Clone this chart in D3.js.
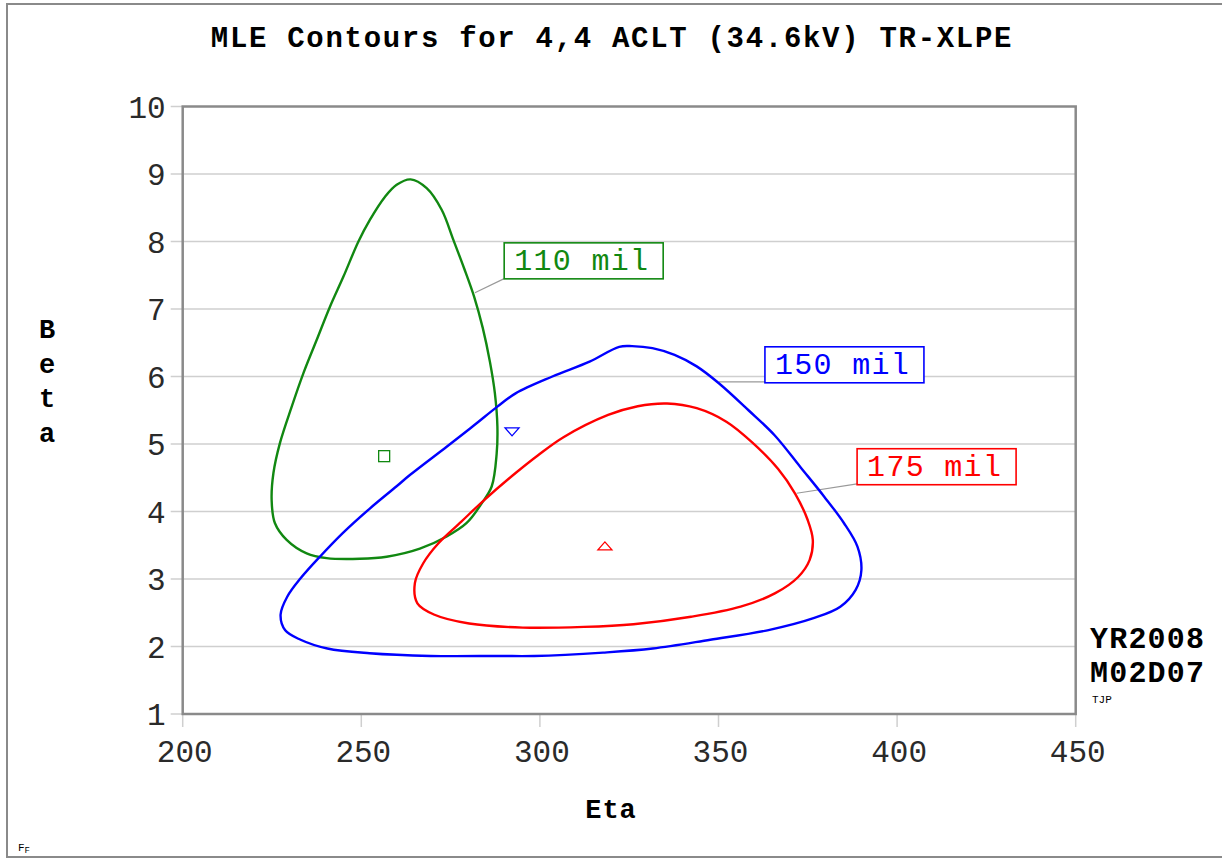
<!DOCTYPE html>
<html>
<head>
<meta charset="utf-8">
<script src="https://cdn.jsdelivr.net/npm/d3@7"></script>
<style>
  body { margin: 0; background: #fff; }
  svg { display: block; }
  text { font-family: "Liberation Mono", "DejaVu Sans Mono", monospace; }
</style>
</head>
<body>
<div id="chart"></div>
<script>
// Axis ticks
const etaTicks = [200, 250, 300, 350, 400, 450];
const betaTicks = [1, 2, 3, 4, 5, 6, 7, 8, 9, 10];
const betaGrid = [2, 3, 4, 5, 6, 7, 8, 9];

// Contour for 110 mil cable, [eta, beta]
const contour110 = [
    [263.8, 8.92], [268.3, 8.79], [272.5, 8.47], [275.8, 8.02], [278.8, 7.60],
    [281.6, 7.18], [284.0, 6.72], [286.0, 6.22], [287.4, 5.75], [288.1, 5.26],
    [287.9, 4.86], [286.5, 4.37], [283.7, 4.12], [279.5, 3.83], [273.9, 3.63],
    [266.4, 3.45], [257.1, 3.33], [249.6, 3.30], [240.3, 3.31], [234.7, 3.38],
    [229.1, 3.58], [225.8, 3.83], [224.9, 4.17], [225.4, 4.57], [227.2, 5.01],
    [230.5, 5.55], [233.8, 6.05], [237.5, 6.54], [241.2, 7.03], [245.0, 7.48],
    [249.2, 8.00], [252.4, 8.32], [256.6, 8.66], [259.9, 8.84]
];

// Contour for 150 mil cable
const contour150 = [
    [325.8, 6.45], [331.5, 6.42], [337.7, 6.32], [343.9, 6.15], [350.1, 5.90],
    [358.4, 5.50], [365.7, 5.13], [372.9, 4.66], [379.6, 4.22], [385.1, 3.83],
    [388.9, 3.48], [390.0, 3.13], [388.4, 2.84], [384.1, 2.59], [376.6, 2.42],
    [363.7, 2.24], [347.7, 2.10], [331.6, 1.97], [317.7, 1.91], [298.4, 1.86],
    [288.7, 1.86], [269.4, 1.86], [252.3, 1.90], [240.5, 1.97], [233.0, 2.10],
    [228.7, 2.24], [227.4, 2.47], [229.3, 2.74], [233.0, 3.01], [238.4, 3.33],
    [244.8, 3.68], [252.3, 4.04], [259.8, 4.37], [263.6, 4.54],
    [273.9, 4.96], [281.4, 5.27], [288.0, 5.55], [293.2, 5.75], [303.5, 6.00],
    [313.9, 6.22], [322.2, 6.44]
];

// Contour for 175 mil cable
const contour175 = [
    [335.6, 5.60], [343.9, 5.53], [352.2, 5.33], [359.5, 5.02], [366.7, 4.63],
    [371.4, 4.27], [375.0, 3.87], [376.4, 3.58], [375.5, 3.28], [372.3, 3.03],
    [365.9, 2.79], [356.2, 2.59], [342.3, 2.44], [326.2, 2.33], [312.3, 2.29],
    [295.2, 2.28], [280.2, 2.34], [270.5, 2.47], [265.7, 2.64], [265.0, 2.94],
    [267.3, 3.23], [271.6, 3.53], [278.0, 3.85], [284.4, 4.17], [293.2, 4.57],
    [299.4, 4.83], [306.6, 5.10], [319.1, 5.43], [327.4, 5.56]
];

// Point estimates [eta, beta]
const mle110 = [256.4, 4.82];
const mle150 = [292.2, 5.18];
const mle175 = [318.2, 3.49];

const seriesNames = ["110 mil", "150 mil", "175 mil"];
const seriesColors = ["#118811", "#0000ff", "#ff0000"];

// Label boxes: top-left corner and leader end, in data units
const labelBoxes = [
    { box: [290.0, 7.98], leaderFrom: [290.0, 7.45], leaderTo: [281.8, 7.24] },
    { box: [363.0, 6.44], leaderFrom: [363.0, 5.92], leaderTo: [350.1, 5.92] },
    { box: [388.8, 4.93], leaderFrom: [388.8, 4.41], leaderTo: [371.9, 4.27] }
];

// Dimensions of the page and the plot area.
let width = 1222,
    height = 858,
    margin = { top: 106.5, right: 146.3, bottom: 144, left: 182.7 },
    plotWidth = width - margin.left - margin.right,
    plotHeight = height - margin.top - margin.bottom;

let x = d3.scaleLinear().domain([200, 450]).range([0, plotWidth]);
let y = d3.scaleLinear().domain([1, 10]).range([plotHeight, 0]);

let svg = d3.select("#chart").append("svg")
    .attr("width", width)
    .attr("height", height);

// Outer frame
svg.append("rect")
    .attr("x", 7).attr("y", 4)
    .attr("width", 1230).attr("height", 853)
    .attr("fill", "none")
    .attr("stroke", "#8a8a8a")
    .attr("stroke-width", 2);

// Title
svg.append("text")
    .attr("x", 612)
    .attr("y", 47)
    .attr("text-anchor", "middle")
    .style("font-size", "29px")
    .style("font-weight", "bold")
    .style("letter-spacing", "1.7px")
    .text("MLE Contours for 4,4 ACLT (34.6kV) TR-XLPE");

let g = svg.append("g")
    .attr("transform", "translate(" + margin.left + "," + margin.top + ")");

// Horizontal grid lines, reaching out past the axis as ticks
g.selectAll(".grid")
    .data(betaGrid)
    .enter().append("line")
    .attr("class", "grid")
    .attr("x1", -12)
    .attr("x2", plotWidth)
    .attr("y1", d => y(d))
    .attr("y2", d => y(d))
    .attr("stroke", "#cfcfcf")
    .attr("stroke-width", 1.5);

// Y tick marks at the ends of the range
g.selectAll(".ytick-end")
    .data([1, 10])
    .enter().append("line")
    .attr("x1", -12).attr("x2", 0)
    .attr("y1", d => y(d)).attr("y2", d => y(d))
    .attr("stroke", "#cfcfcf")
    .attr("stroke-width", 1.5);

// X tick marks below the axis
g.selectAll(".xtick")
    .data(etaTicks)
    .enter().append("line")
    .attr("x1", d => x(d)).attr("x2", d => x(d))
    .attr("y1", plotHeight).attr("y2", plotHeight + 13)
    .attr("stroke", "#cfcfcf")
    .attr("stroke-width", 1.5);

// Plot border
g.append("rect")
    .attr("width", plotWidth)
    .attr("height", plotHeight)
    .attr("fill", "none")
    .attr("stroke", "#8a8a8a")
    .attr("stroke-width", 2.5);

// Tick labels
g.selectAll(".ylabel")
    .data(betaTicks)
    .enter().append("text")
    .attr("x", -17)
    .attr("y", d => y(d))
    .attr("dy", "0.36em")
    .attr("text-anchor", "end")
    .attr("fill", "#2a2a2a")
    .style("font-size", "31px")
    .text(d => d);

g.selectAll(".xlabel")
    .data(etaTicks)
    .enter().append("text")
    .attr("x", d => x(d) + 2)
    .attr("y", plotHeight + 48)
    .attr("text-anchor", "middle")
    .attr("fill", "#2a2a2a")
    .style("font-size", "31px")
    .text(d => d);

// Axis titles
svg.append("text")
    .attr("x", 611)
    .attr("y", 818)
    .attr("text-anchor", "middle")
    .style("font-size", "27px")
    .style("font-weight", "bold")
    .style("letter-spacing", "1px")
    .text("Eta");

svg.selectAll(".betaLetter")
    .data("Beta".split(""))
    .enter().append("text")
    .attr("x", 47)
    .attr("y", (d, i) => 338 + i * 34.5)
    .attr("text-anchor", "middle")
    .style("font-size", "27px")
    .style("font-weight", "bold")
    .text(d => d);

// Contours
let line = d3.line()
    .x(d => x(d[0]))
    .y(d => y(d[1]))
    .curve(d3.curveCatmullRomClosed.alpha(0.5));

let contours = [contour110, contour150, contour175];

// Leader lines behind the curves
labelBoxes.forEach(function (lb) {
    g.append("line")
        .attr("x1", x(lb.leaderFrom[0])).attr("y1", y(lb.leaderFrom[1]))
        .attr("x2", x(lb.leaderTo[0])).attr("y2", y(lb.leaderTo[1]))
        .attr("stroke", "#999")
        .attr("stroke-width", 1.2);
});

g.selectAll(".contour")
    .data(contours)
    .enter().append("path")
    .attr("class", "contour")
    .attr("d", line)
    .attr("fill", "none")
    .attr("stroke", (d, i) => seriesColors[i])
    .attr("stroke-width", 2.4);

// Point estimate markers
g.append("rect")
    .attr("x", x(mle110[0]) - 5.5)
    .attr("y", y(mle110[1]) - 5.5)
    .attr("width", 11).attr("height", 11)
    .attr("fill", "none")
    .attr("stroke", seriesColors[0])
    .attr("stroke-width", 1.3);

g.append("path")
    .attr("transform", "translate(" + x(mle150[0]) + "," + y(mle150[1]) + ")")
    .attr("d", "M-7,-4L7,-4L0,4Z")
    .attr("fill", "none")
    .attr("stroke", seriesColors[1])
    .attr("stroke-width", 1.3);

g.append("path")
    .attr("transform", "translate(" + x(mle175[0]) + "," + y(mle175[1]) + ")")
    .attr("d", "M-7,4L7,4L0,-4Z")
    .attr("fill", "none")
    .attr("stroke", seriesColors[2])
    .attr("stroke-width", 1.3);

// Label boxes
labelBoxes.forEach(function (lb, i) {
    let bx = x(lb.box[0]), by = y(lb.box[1]);
    g.append("rect")
        .attr("x", bx).attr("y", by)
        .attr("width", 159).attr("height", 36)
        .attr("fill", "#fff")
        .attr("stroke", seriesColors[i])
        .attr("stroke-width", 1.6);
    g.append("text")
        .attr("x", bx + 10)
        .attr("y", by + 27)
        .attr("fill", seriesColors[i])
        .style("font-size", "30px")
        .style("letter-spacing", "1.3px")
        .text(seriesNames[i]);
});

// Date stamp
svg.append("text")
    .attr("x", 1090).attr("y", 648)
    .style("font-size", "30px")
    .style("font-weight", "bold")
    .style("letter-spacing", "1.2px")
    .text("YR2008");
svg.append("text")
    .attr("x", 1090).attr("y", 682)
    .style("font-size", "30px")
    .style("font-weight", "bold")
    .style("letter-spacing", "1.2px")
    .text("M02D07");
svg.append("text")
    .attr("x", 1092).attr("y", 703)
    .style("font-size", "11px")
    .text("TJP");

let ff = svg.append("text")
    .attr("x", 18).attr("y", 851)
    .style("font-size", "11px");
ff.append("tspan").text("F");
ff.append("tspan").attr("dy", 2).style("font-size", "9px").text("F");
</script>
</body>
</html>
